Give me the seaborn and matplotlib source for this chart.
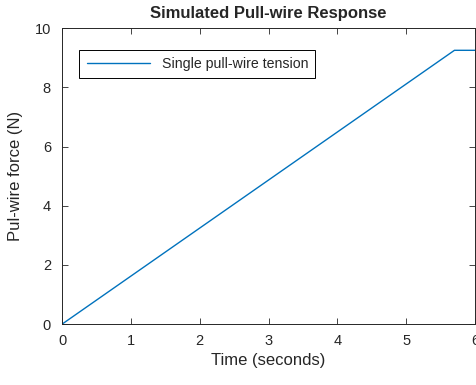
import pandas as pd
import seaborn as sns
import matplotlib.pyplot as plt

# dados da curva (tempo em s, força em N)
tempo = [0.0, 5.7, 6.0]
forca = [0.0, 9.25, 9.25]
serie = 'Single pull-wire tension'

df = pd.DataFrame({'tempo': tempo, 'forca': forca, 'serie': serie})

sns.set_style('ticks')
plt.rcParams['font.family'] = ['Liberation Sans', 'DejaVu Sans']

fig = plt.figure(figsize=(4.77, 3.85), dpi=100)
ax = fig.add_axes([0.130, 0.158, 0.866, 0.769])

sns.lineplot(x='tempo', y='forca', hue='serie', data=df, palette=['#0072BD'],
             linewidth=1.0, ax=ax)

ax.set_xlim(0, 6)
ax.set_ylim(0, 10)
ax.set_xticks(range(0, 7))
ax.set_yticks(range(0, 11, 2))
ax.tick_params(direction='in', top=True, right=True, labelsize=10.5,
               length=4, width=0.6, colors='#262626')
ax.tick_params(axis='x', pad=7)
ax.tick_params(axis='y', pad=8)
for s in ax.spines.values():
    s.set_linewidth(0.7)
    s.set_color('#262626')

ax.set_xlabel('Time (seconds)', fontsize=12, color='#262626', labelpad=4)
ax.set_ylabel('Pul-wire force (N)', fontsize=12, color='#262626', labelpad=8)
ax.set_title('Simulated Pull-wire Response', fontsize=12, fontweight='bold', pad=7)

leg = ax.legend(loc='upper left', bbox_to_anchor=(0.025, 0.95), fontsize=10.2,
                fancybox=False, edgecolor='black', framealpha=1,
                handlelength=4.5, borderpad=0.5)
leg.get_frame().set_linewidth(0.7)

plt.savefig('out.png', dpi=100)
